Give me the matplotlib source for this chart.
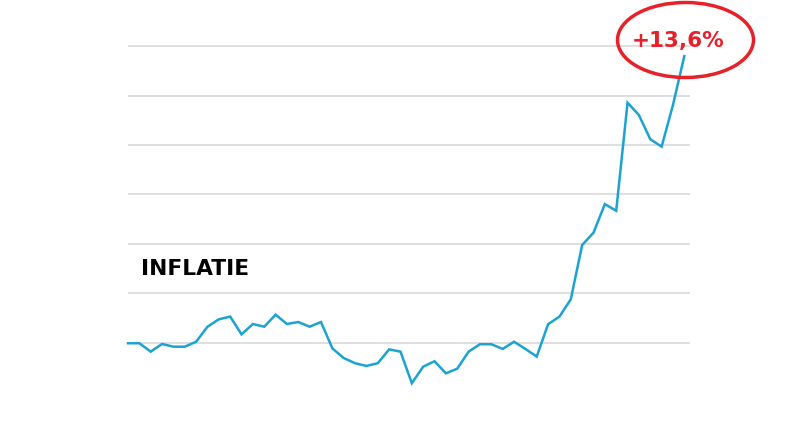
import matplotlib
matplotlib.use("Agg")
import matplotlib.pyplot as plt
from matplotlib.patches import Ellipse

title = "INFLATIE"
annotation = "+13,6%"
months = list(range(50))
inflation = [1.97, 1.97, 1.63, 1.94, 1.83, 1.83, 2.03, 2.64, 2.94, 3.05,
             2.33, 2.75, 2.64, 3.13, 2.75, 2.83, 2.64, 2.83, 1.76, 1.37,
             1.16, 1.05, 1.16, 1.72, 1.63, 0.35, 1.02, 1.24, 0.75, 0.94,
             1.63, 1.93, 1.93, 1.74, 2.03, 1.74, 1.43, 2.74, 3.05, 3.75,
             5.95, 6.45, 7.61, 7.34, 11.72, 11.22, 10.24, 9.94, 11.63, 13.61]
gridvals = [2, 4, 6, 8, 10, 12, 14]

W, H = 800, 432
fig = plt.figure(figsize=(8, 4.32), dpi=100)

top_px, bot_px = 20, 420
def val_at(py):
    return 2 + (342.5 - py) / 24.67

ax = fig.add_axes([128 / W, (H - bot_px) / H, (690 - 128) / W, (bot_px - top_px) / H])
ax.set_xlim(0, 49.5)
ax.set_ylim(val_at(bot_px), val_at(top_px))
for g in gridvals:
    ax.axhline(g, color="#d6d6d6", lw=1.1, zorder=1)
ax.plot(months, inflation, color="#1ba3d2", lw=1.8, zorder=3, clip_on=False,
        solid_joinstyle="miter")
ax.axis("off")

fig.text(141 / W, 1 - 269 / H, title, fontsize=15.7, fontweight="bold",
         color="black", ha="left", va="center", family="DejaVu Sans")

fig.text(678 / W, 1 - 41.5 / H, annotation, fontsize=15.5, fontweight="bold",
         color="#e8202a", ha="center", va="center", family="DejaVu Sans")
ell = Ellipse((685.5 / W, 1 - 40 / H), 136 / W, 75 / H, transform=fig.transFigure,
              fill=False, edgecolor="#e8202a", lw=2.5)
fig.patches.append(ell)

fig.savefig("out.png", dpi=100)
